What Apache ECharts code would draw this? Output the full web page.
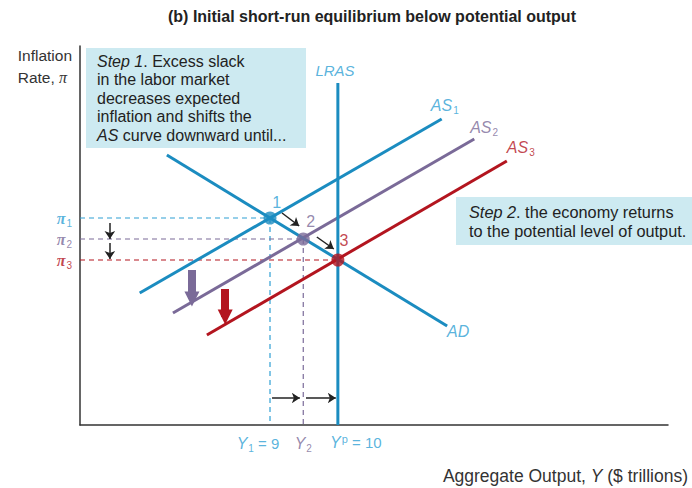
<!DOCTYPE html>
<html style="height: 100%">
    <head>
        <meta charset="utf-8">
    </head>
    <body style="height: 100%; margin: 0">
        <div id="container" style="height: 488px; width: 692px;"></div>
        <script type="text/javascript" src="https://cdn.jsdelivr.net/npm/echarts@6/dist/echarts.min.js"></script>
        <script type="text/javascript">
// axis ranges (output in $ trillions, inflation in arbitrary units)
var xRange = [6.2, 14.865];
var yRange = [0, 18.95];

// curves: [x, y] end points
var as1 = [[7.08, 6.6], [11.53, 15.3]];
var as2 = [[7.57, 5.6], [12.01, 14.3]];
var as3 = [[8.07, 4.5], [12.49, 13.2]];
var ad = [[7.48, 13.5], [11.61, 4.95]];
var lras = [[10, 0], [10, 17.1]];

// equilibrium points
var outputs = [9, 9.49, 10];
var inflation = [10.35, 9.3, 8.25];

// small black arrows
var smallArrows = [
    [[9.177, 10.6], [9.43, 9.95]],
    [[9.69, 9.4], [9.94, 8.8]],
    [[9.03, 1.35], [9.44, 1.35]],
    [[9.53, 1.35], [9.97, 1.35]],
    [[6.64, 10.1], [6.64, 9.3]],
    [[6.64, 9.1], [6.64, 8.3]]
];
// big shift arrows
var shiftArrows = [
    [[7.85, 7.75], [7.85, 6.3]],
    [[8.34, 6.8], [8.34, 5.4]]
];

var blue = '#1b8cc0';
var lightBlue = '#2f9fd4';
var purple = '#7a6a98';
var red = '#b3151f';
var font = 'Liberation Sans, Arial, sans-serif';
var colors = [blue, purple, red];
var labelColors = [lightBlue, purple, red];

var dom = document.getElementById("container");
var myChart = echarts.init(dom, null, {renderer: 'svg'});

function curve(name, data, color) {
    return {
        name: name, type: 'line', data: data, symbol: 'none', silent: true,
        lineStyle: {color: color, width: 3}, z: 5
    };
}
function dashed(data, color) {
    return {
        type: 'line', data: data, symbol: 'none', silent: true,
        lineStyle: {color: color, width: 1.2, type: [5, 4]}, z: 3
    };
}
function textPoint(x, y, text, color, pos, opts) {
    return {
        value: [x, y],
        label: Object.assign({show: true, formatter: text, position: pos, color: color,
            fontFamily: font, fontSize: 16}, opts || {})
    };
}
var rich = {
    i: {fontStyle: 'italic', fontSize: 16, fontFamily: font},
    n: {fontSize: 15, fontFamily: font},
    s: {fontSize: 10, verticalAlign: 'bottom', padding: [10, 0, 0, 1], fontFamily: font},
    p: {fontStyle: 'italic', fontWeight: 'bold', fontFamily: 'Liberation Serif, serif', fontSize: 16},
    sup: {fontSize: 11, padding: [0, 0, 8, 1], fontFamily: font}
};
function richLabel(color, extra) {
    var r = {};
    for (var k in rich) r[k] = Object.assign({color: color}, rich[k]);
    return Object.assign({rich: r}, extra || {});
}

var series = [
    curve('AS1', as1, blue),
    curve('AS2', as2, purple),
    curve('AS3', as3, red),
    curve('AD', ad, blue),
    curve('LRAS', lras, blue)
];

for (var i = 0; i < 3; i++) {
    series.push(dashed([[xRange[0], inflation[i]], [outputs[i], inflation[i]]], labelColors[i]));
    if (i < 2) series.push(dashed([[outputs[i], inflation[i]], [outputs[i], 0]], labelColors[i]));
}

series.push({
    type: 'lines', coordinateSystem: 'cartesian2d', silent: true, z: 6,
    symbol: ['none', 'arrow'], symbolSize: 8,
    lineStyle: {color: '#222', width: 1.5, opacity: 1},
    data: smallArrows.map(function (c) { return {coords: c}; })
});
series.push({
    type: 'lines', coordinateSystem: 'cartesian2d', silent: true, z: 6,
    symbol: ['none', 'triangle'], symbolSize: [19, 15],
    data: shiftArrows.map(function (c, i) {
        return {coords: c, lineStyle: {color: [purple, red][i], width: 8, opacity: 1}};
    })
});

series.push({
    type: 'scatter', symbolSize: 13, silent: true, z: 8,
    data: outputs.map(function (x, i) {
        return {value: [x, inflation[i]], itemStyle: {color: colors[i]}};
    })
});

// text labels anchored to data coordinates
var labels = [
    textPoint(9.1, 11.15, '1', lightBlue, 'inside'),
    textPoint(9.6, 10.2, '2', purple, 'inside'),
    textPoint(10.09, 9.25, '3', red, 'inside'),
    textPoint(9.958, 17.75, 'LRAS', lightBlue, 'inside', {fontStyle: 'italic', fontSize: 15}),
    textPoint(11.61, 4.7, 'AD', lightBlue, 'right', {fontStyle: 'italic', distance: 0}),
    textPoint(11.37, 16.0, '{i|AS}{s|1}', lightBlue, 'right', richLabel(lightBlue, {distance: 0})),
    textPoint(11.95, 14.9, '{i|AS}{s|2}', purple, 'right', richLabel(purple, {distance: 0})),
    textPoint(12.49, 13.9, '{i|AS}{s|3}', red, 'right', richLabel(red, {distance: 0})),
    textPoint(outputs[0], 0, '{i|Y}{s|1}{n| = 9}', lightBlue, 'bottom', richLabel(lightBlue, {distance: 8, offset: [-12, 0]})),
    textPoint(outputs[1], 0, '{i|Y}{s|2}', purple, 'bottom', richLabel(purple, {distance: 8, offset: [0, 0]})),
    textPoint(outputs[2], 0, '{i|Y}{sup|p}{n| = 10}', lightBlue, 'bottom', richLabel(lightBlue, {distance: 8, offset: [18, 0]}))
];
for (var j = 0; j < 3; j++) {
    labels.push(textPoint(xRange[0], inflation[j], '{p|π}{s|' + (j + 1) + '}', labelColors[j], 'left',
        richLabel(labelColors[j], {distance: 8})));
}
series.push({
    type: 'scatter', symbolSize: 0, silent: true, z: 9, data: labels
});

var option = {
    animation: false,
    grid: {left: 80, right: 24, top: 46, bottom: 63},
    xAxis: {
        type: 'value', min: xRange[0], max: xRange[1],
        axisLine: {show: true, onZero: false, lineStyle: {color: '#333', width: 1.5}},
        axisTick: {show: false}, axisLabel: {show: false}, splitLine: {show: false}
    },
    yAxis: {
        type: 'value', min: yRange[0], max: yRange[1],
        axisLine: {show: true, onZero: false, lineStyle: {color: '#333', width: 1.5}},
        axisTick: {show: false}, axisLabel: {show: false}, splitLine: {show: false}
    },
    graphic: [
        {type: 'text', left: 168, top: 8, style: {
            text: '(b) Initial short-run equilibrium below potential output',
            fontFamily: font, fontWeight: 'bold', fontSize: 16, fill: '#222'}},
        {type: 'text', right: 620, top: 44, style: {
            text: 'Inflation\n{r|Rate, }{p|π}', align: 'right', fontFamily: font, fontSize: 15.5,
            lineHeight: 22, fill: '#333',
            rich: {r: {fontFamily: font, fontSize: 15.5, fill: '#333'},
                   p: {fontFamily: 'Liberation Serif, serif', fontStyle: 'italic', fontSize: 16, fill: '#333'}}}},
        {type: 'text', right: 4, top: 467, style: {
            text: 'Aggregate Output, {i|Y} ($ trillions)', fontFamily: font, fontSize: 17.5, fill: '#333',
            rich: {i: {fontFamily: font, fontStyle: 'italic', fontSize: 17.5, fill: '#333'}}}},
        {type: 'rect', shape: {x: 86, y: 48, width: 220, height: 100}, style: {fill: '#cdeaf1'}, z: 1},
        {type: 'text', x: 97, y: 52, z: 2, style: {
            text: '{i|Step 1}. Excess slack\nin the labor market\ndecreases expected\ninflation and shifts the\n{i|AS} curve downward until...',
            fontFamily: font, fontSize: 16, lineHeight: 18.5, fill: '#222',
            rich: {i: {fontFamily: font, fontStyle: 'italic', fontSize: 16, fill: '#222'}}}},
        {type: 'rect', shape: {x: 456, y: 197, width: 236, height: 48}, style: {fill: '#cdeaf1'}, z: 1},
        {type: 'text', x: 469, y: 203, z: 2, style: {
            text: '{i|Step 2}. the economy returns\nto the potential level of output.',
            fontFamily: font, fontSize: 16.3, lineHeight: 18.5, fill: '#222',
            rich: {i: {fontFamily: font, fontStyle: 'italic', fontSize: 16.3, fill: '#222'}}}}
    ],
    series: series
};

myChart.setOption(option);
        </script>
    </body>
</html>
